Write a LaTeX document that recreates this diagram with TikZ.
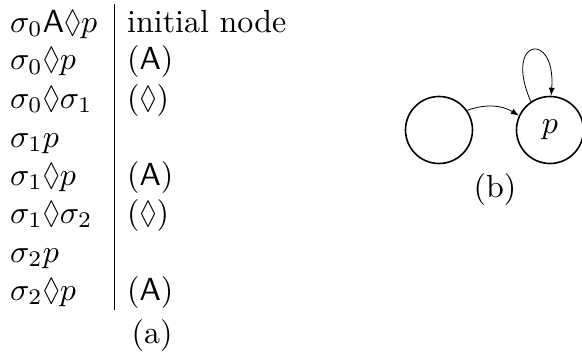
\documentclass[tikz,border=0pt]{standalone}
\usepackage{amssymb}
\usepackage{graphicx}
\usetikzlibrary{arrows.meta}
\newcommand{\dia}{\mathbin{\scalebox{0.8}[1]{$\lozenge$}}}
\newcommand{\bt}[1]{\scalebox{3.2}{#1}}
\begin{document}
\begin{tikzpicture}[x=1pt,y=1pt,
  lab/.style={anchor=base west,inner sep=0pt},
  capt/.style={anchor=base,inner sep=0pt},
  stbox/.style={circle,draw,line width=1.6pt,minimum size=67pt,inner sep=0pt},
  conn/.style={-{Latex[length=8pt,width=6pt]},line width=0.8pt}]
\useasboundingbox (0,-356) rectangle (582,0);
% table (a)
\node[lab] (l1) at (10,-32)  {\bt{$\sigma_0\mathsf{A}{\dia} p$}};
\node[lab] (l2) at (10,-70)  {\bt{$\sigma_0{\dia} p$}};
\node[lab] (l3) at (10,-108) {\bt{$\sigma_0{\dia}\sigma_1$}};
\node[lab] (l4) at (10,-147) {\bt{$\sigma_1 p$}};
\node[lab] (l5) at (10,-185) {\bt{$\sigma_1{\dia} p$}};
\node[lab] (l6) at (10,-223) {\bt{$\sigma_1{\dia}\sigma_2$}};
\node[lab] (l7) at (10,-262) {\bt{$\sigma_2 p$}};
\node[lab] (l8) at (10,-300) {\bt{$\sigma_2{\dia} p$}};
\node[lab] (r1) at (127,-32)  {\bt{initial node}};
\node[lab] (r2) at (127,-70)  {\bt{($\mathsf{A}$)}};
\node[lab] (r3) at (127,-108) {\bt{(${\dia}$)}};
\node[lab] (r5) at (127,-185) {\bt{($\mathsf{A}$)}};
\node[lab] (r6) at (127,-223) {\bt{(${\dia}$)}};
\node[lab] (r8) at (127,-300) {\bt{($\mathsf{A}$)}};
\coordinate (vt) at (114,-4);
\coordinate (vb) at (114,-310);
\draw[line width=0.8pt] (vt) -- (vb);
\node[capt] (ca) at (152,-343) {\bt{(a)}};
% graph (b)
\node[stbox] (q) at (439,-130) {};
\node[stbox] (p) at (550,-130) {\bt{$p$}};
\draw[conn] (q.35) to[bend left=25] (p.155);
\draw[conn] (p.124) .. controls (503,-38) and (556,-30) .. (p.88);
\node[capt] (cb) at (495,-197) {\bt{(b)}};
\end{tikzpicture}
\end{document}
